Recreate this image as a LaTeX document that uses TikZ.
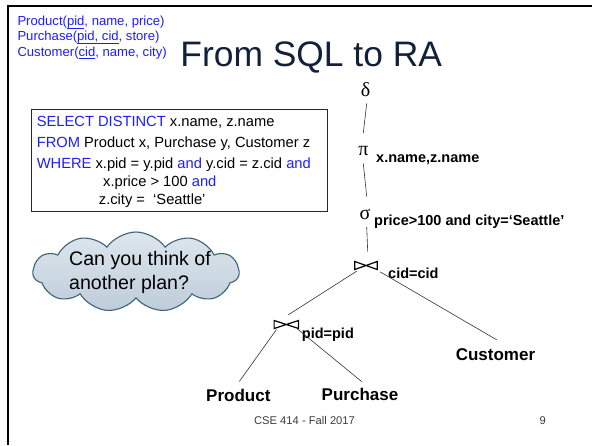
\documentclass[tikz,border=0pt]{standalone}
\usepackage{fontspec}
\setmainfont{Liberation Sans}
\newfontfamily\greekfont{Liberation Serif}
\usetikzlibrary{shapes.symbols}

\definecolor{kwblue}{RGB}{30,30,250}
\definecolor{titlenavy}{RGB}{18,32,56}
\definecolor{footgray}{RGB}{60,60,60}
\definecolor{cloudtop}{RGB}{222,230,237}
\definecolor{cloudbot}{RGB}{190,205,218}
\definecolor{cloudedge}{RGB}{62,98,122}

% underline for key attributes
\newcommand\keyul[1]{\setbox0\hbox{#1}\rlap{\rule[-3.1pt]{\wd0}{0.9pt}}\box0}
\newcommand\fsz[1]{\fontsize{#1}{#1}\selectfont}

\begin{document}
\begin{tikzpicture}[x=1pt,y=-1pt,
  schema/.style={anchor=base west, inner sep=0pt, text=kwblue, font=\fsz{13.1}},
  sqlline/.style={anchor=base west, inner sep=0pt, font=\fsz{14.7}},
  opsym/.style={anchor=base, inner sep=0pt, text depth=0pt, font=\greekfont\fsz{20}},
  cond/.style={anchor=base west, inner sep=0pt, font=\bfseries\fsz{14.5}},
  leaf/.style={anchor=base, inner sep=0pt, text height=12.2pt, text depth=0pt, font=\bfseries\fsz{17}},
  joinbox/.style={inner sep=0pt, minimum width=22pt, minimum height=7.6pt},
  bowtie/.style={line width=1.2pt, line join=miter},
  edge/.style={line width=0.6pt, black!80},
]
\fill[white] (0,0) rectangle (592,445);
\useasboundingbox (0,0) rectangle (592,445);

% slide frame (top and left rules)
\draw[line width=2.2pt] (8,5.8) -- (592,5.8);
\draw[line width=2.2pt] (8.3,4.7) -- (8.3,445);

% schema
\node[schema] (s1) at (17.3,25.3) {Product(\keyul{pid}, name, price)};
\node[schema] (s2) at (17.3,40.6) {Purchase(\keyul{pid, cid}, store)};
\node[schema] (s3) at (17.3,56.1) {Customer(\keyul{cid}, name, city)};

% title
\node[anchor=base west, inner sep=0pt, text=titlenavy, font=\fsz{35.4}] (title) at (180.2,66.7) {From SQL to RA};

% SQL query
\node[draw=black!85, line width=1pt, minimum width=296pt, minimum height=102pt, inner sep=0pt] (sqlbox) at (179,160) {};
\node[sqlline] (q1) at (36.6,126.8) {{\color{kwblue}SELECT DISTINCT} x.name, z.name};
\node[sqlline] (q2) at (36.6,147.4) {{\color{kwblue}FROM} Product x, Purchase y, Customer z};
\node[sqlline] (q3) at (36.6,168) {{\color{kwblue}WHERE} x.pid = y.pid {\color{kwblue}and} y.cid = z.cid {\color{kwblue}and}};
\node[sqlline] (q4) at (103,186) {x.price > 100 {\color{kwblue}and}};
\node[sqlline] (q5) at (98.7,204) {z.city =~~‘Seattle’};

% thought cloud
\node[cloud, cloud puffs=11, cloud puff arc=110, aspect=2.6, draw=cloudedge, line width=1.1pt,
      top color=cloudtop, bottom color=cloudbot, minimum width=206pt, minimum height=80pt, inner sep=0pt] (cloud) at (136,272) {};
\node[anchor=base west, inner sep=0pt, font=\fsz{19.6}] (ask1) at (69,265) {Can you think of};
\node[anchor=base west, inner sep=0pt, font=\fsz{19.6}] (ask2) at (69,289) {another plan?};

% plan operators
\node[opsym, text height=14pt] (delta) at (365.7,96.7) {δ};
\node[opsym, text height=9pt] (pi) at (363.3,155) {π};
\node[cond] (pilab) at (376,162) {x.name,z.name};
\node[opsym, text height=9pt] (sigma) at (365,219.3) {σ};
\node[cond] (sigmalab) at (374,225.7) {price>100 and city=‘Seattle’};
\node[joinbox] (j1) at (366,265.5) {};
\node[cond] (j1lab) at (388,278) {cid=cid};
\node[joinbox, minimum width=24pt] (j2) at (286.3,324.5) {};
\node[cond] (j2lab) at (301.7,338) {pid=pid};

% base relations
\node[leaf] (customer) at (495.5,360.7) {Customer};
\node[leaf] (product) at (238.3,401.5) {Product};
\node[leaf] (purchase) at (360,400.7) {Purchase};

% join symbols
\draw[bowtie] (j1.north west) -- (j1.south west) -- (j1.center) -- cycle
              (j1.north east) -- (j1.south east) -- (j1.center) -- cycle;
\draw[bowtie] (j2.north west) -- (j2.south west) -- (j2.center) -- cycle
              (j2.north east) -- (j2.south east) -- (j2.center) -- cycle;

% plan edges
\draw[edge] ([shift={(1,6.6)}]delta.south) -- ([shift={(0,-12.7)}]pi.north);
\draw[edge] ([shift={(0,8.3)}]pi.south) -- ([shift={(1.7,-13.6)}]sigma.north);
\draw[edge] ([shift={(1.7,7.4)}]sigma.south) -- ([shift={(1.7,-10)}]j1.north);
\draw[edge] ([shift={(2.3,1.4)}]j1.south west) -- ([shift={(2,-5.7)}]j2.north);
\draw[edge] ([shift={(3,2.4)}]j1.south east) -- ([shift={(1.2,-8.5)}]customer.north);
\draw[edge] ([shift={(2.4,1)}]j2.south west) -- ([shift={(1,-7.6)}]product.north);
\draw[edge] ([shift={(-1.6,0)}]j2.south east) -- ([shift={(1.7,-6.7)}]purchase.north);

% footer
\node[anchor=base, inner sep=0pt, font=\fsz{11.2}, text=footgray] (footer) at (304.5,424.5) {CSE 414 - Fall 2017};
\node[anchor=base, inner sep=0pt, font=\fsz{11.2}, text=footgray] (pagenum) at (542.7,424.5) {9};
\end{tikzpicture}
\end{document}
